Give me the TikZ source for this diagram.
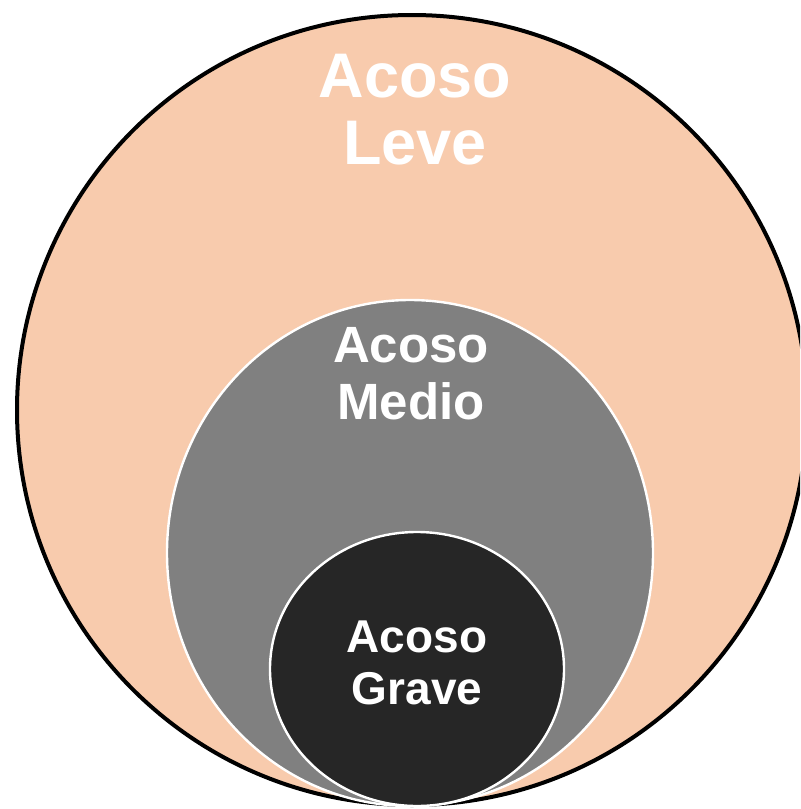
\documentclass[tikz,border=0pt]{standalone}
\usepackage{fontspec}
\setmainfont{Liberation Sans}
\usepackage{xcolor}
\usetikzlibrary{
  positioning,
  shapes.geometric
}

\definecolor{leveFill}{HTML}{F8CBAD}
\definecolor{medioFill}{HTML}{808080}
\definecolor{graveFill}{HTML}{262626}

\tikzset{
  ring/.style={ellipse, inner sep=0pt, outer sep=0pt},
  label text/.style={text=white, align=center, inner sep=0pt,
    anchor=north, font=\bfseries}
}

\begin{document}
\begin{tikzpicture}[x=0.5pt,y=-0.5pt]
  % the page, in pixels of the reference (y runs down)
  \useasboundingbox (0,0) rectangle (800,809);
  \clip (0,0) rectangle (800,809);

  % Draw the three nested rings, largest first, so that
  % each smaller one lies on top of the one round it.
  \node [ring, fill=leveFill, draw=black, line width=2pt,
         minimum width=395pt, minimum height=395pt] (leve) at (412,410) {};
  \node [ring, fill=medioFill, draw=white, line width=1.2pt,
         minimum width=243pt, minimum height=253pt] (medio) at (410,553) {};
  \node [ring, fill=graveFill, draw=white, line width=1.2pt,
         minimum width=147pt, minimum height=137pt] (grave) at (417,669) {};

  % The labels, near the top of each ring.
  \node [label text, font=\bfseries\fontsize{31.5}{33.5}\selectfont]
        (leveText) at (415,54) {Acoso\\Leve};
  \node [label text, font=\bfseries\fontsize{25.5}{28.5}\selectfont]
        (medioText) at (411,327) {Acoso\\Medio};
  \node [label text, font=\bfseries\fontsize{23}{26}\selectfont]
        (graveText) at (417,620) {Acoso\\Grave};
\end{tikzpicture}
\end{document}
